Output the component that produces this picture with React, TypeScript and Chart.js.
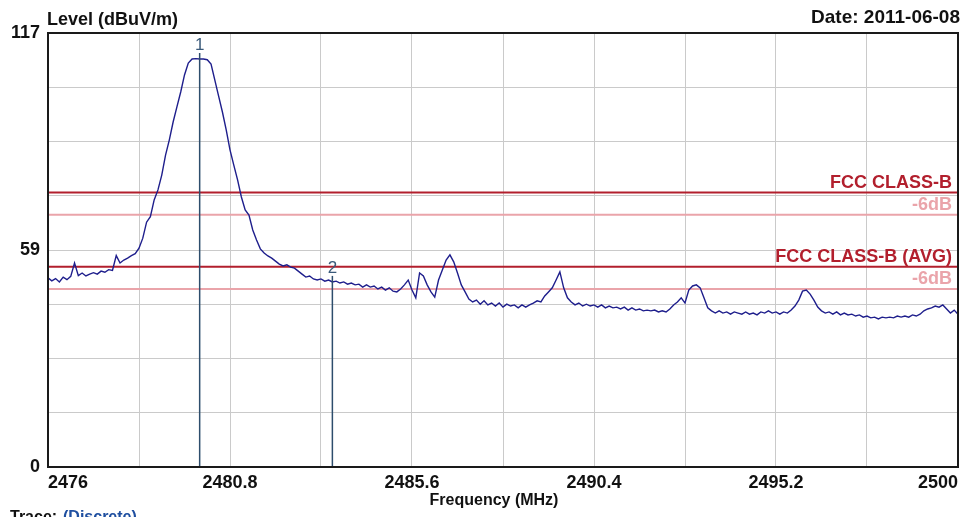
import React, { useEffect, useRef } from 'react';
import { Chart, registerables } from 'chart.js';

Chart.register(...registerables);

// Sweep definition (MHz)
const F_START = 2476;
const F_STOP = 2500;
const F_STEP = 0.1;

// Measured level trace (dBuV/m), one value per sweep step
const LEVELS = [
  51.0, 50.2, 50.8, 49.9, 51.2, 50.5, 51.4, 55.0, 51.6, 52.3,
  51.5, 52.0, 52.4, 52.0, 52.8, 52.5, 53.2, 53.0, 57.0, 55.0,
  55.8, 56.3, 57.0, 57.5, 59.0, 61.7, 66.0, 67.5, 72.0, 74.7,
  78.7, 84.1, 88.2, 93.0, 97.1, 101.1, 105.7, 108.9, 110.0, 110.1,
  110.0, 110.0, 109.8, 108.6, 104.3, 100.0, 95.7, 90.9, 85.5, 81.4,
  77.4, 72.8, 69.3, 67.9, 63.9, 61.2, 58.8, 57.7, 56.9, 56.3,
  55.5, 54.7, 54.2, 54.5, 53.9, 53.6, 52.8, 52.0, 51.2, 51.5,
  50.7, 50.4, 50.7, 50.1, 50.4, 49.9, 50.1, 49.6, 49.9, 49.3,
  49.6, 49.1, 49.3, 48.5, 49.1, 48.5, 48.8, 48.0, 48.5, 47.7,
  48.3, 47.4, 47.2, 48.0, 49.1, 50.4, 47.7, 45.6, 52.3, 51.5,
  49.1, 47.2, 45.8, 50.4, 53.1, 55.8, 57.2, 55.3, 52.3, 49.1,
  47.2, 45.3, 44.5, 45.0, 43.9, 44.8, 43.7, 44.2, 43.4, 44.2,
  43.1, 43.9, 43.4, 43.7, 42.9, 43.7, 43.1, 43.7, 44.2, 44.8,
  44.5, 46.1, 47.2, 48.3, 50.4, 52.6, 48.3, 45.6, 44.5, 43.7,
  44.2, 43.4, 43.9, 43.4, 43.7, 43.1, 43.7, 42.9, 43.4, 42.9,
  43.1, 42.6, 43.1, 42.3, 42.9, 42.3, 42.6, 42.1, 42.3, 42.1,
  42.3, 41.8, 42.1, 41.8, 42.6, 43.7, 44.5, 45.6, 44.2, 47.7,
  48.8, 49.1, 48.3, 45.6, 42.9, 42.1, 41.5, 42.1, 41.5, 41.8,
  41.2, 41.8, 41.5, 41.2, 41.8, 41.2, 41.5, 41.0, 41.8, 41.5,
  42.1, 41.5, 41.8, 41.2, 41.8, 41.5, 42.3, 43.4, 45.0, 47.4,
  47.7, 46.6, 45.0, 43.1, 42.1, 41.5, 41.8, 41.2, 41.8, 41.0,
  41.5, 41.0, 41.2, 40.7, 41.0, 40.4, 40.7, 40.2, 40.4, 39.9,
  40.4, 40.2, 40.4, 40.2, 40.7, 40.4, 40.7, 40.4, 41.0, 40.7,
  41.2, 42.1, 42.6, 42.9, 43.4, 43.1, 43.7, 42.6, 41.5, 42.3, 41.2,
];

// Axis grid / tick labels
const X_GRID = [2476, 2478.4, 2480.8, 2483.2, 2485.6, 2488, 2490.4, 2492.8, 2495.2, 2497.6, 2500];
const X_LABELS = ['2476', '', '2480.8', '', '2485.6', '', '2490.4', '', '2495.2', '', '2500'];
const Y_MIN = 0;
const Y_MAX = 117;
const Y_GRID = [0, 14.625, 29.25, 43.875, 58.5, 73.125, 87.75, 102.375, 117];
const Y_LABELS = ['0', '', '', '', '59', '', '', '', '117'];

// Limit lines
const LIMIT_NAMES = ['FCC CLASS-B', '-6dB', 'FCC CLASS-B (AVG)', '-6dB'];
const LIMIT_LEVELS = [74, 68, 54, 48];
const LIMIT_IS_MARGIN = [false, true, false, true];

// Markers
const MARKER_NAMES = ['1', '2'];
const MARKER_FREQS = [2480.0, 2483.5];

// Texts
const Y_TITLE = 'Level (dBuV/m)';
const X_TITLE = 'Frequency (MHz)';
const DATE_TEXT = 'Date: 2011-06-08';
const TRACE_LABEL = 'Trace:';
const TRACE_MODE = '(Discrete)';

const FONT = '"Liberation Sans", Arial, Helvetica, sans-serif';
const LIMIT_COLOR = '#b21f2d';
const MARGIN_COLOR = '#eaa4aa';

const overlay = {
  id: 'overlay',
  afterDatasetsDraw(chart: any) {
    const { ctx, chartArea: a, scales } = chart;
    const x = scales.x;
    const y = scales.y;
    ctx.save();
    // markers
    MARKER_FREQS.forEach((f, k) => {
      const px = x.getPixelForValue(f);
      const idx = Math.round((f - F_START) / F_STEP);
      const py = y.getPixelForValue(LEVELS[idx]);
      const top = py - 6;
      ctx.strokeStyle = '#2d4d6c';
      ctx.lineWidth = 1.5;
      ctx.beginPath();
      ctx.moveTo(px, top);
      ctx.lineTo(px, a.bottom);
      ctx.stroke();
      ctx.fillStyle = '#3a5a7a';
      ctx.font = `17px ${FONT}`;
      ctx.textAlign = 'center';
      ctx.textBaseline = 'bottom';
      ctx.fillText(MARKER_NAMES[k], px, top + 1);
    });
    // limit labels
    LIMIT_LEVELS.forEach((lv, k) => {
      const py = y.getPixelForValue(lv);
      ctx.fillStyle = LIMIT_IS_MARGIN[k] ? MARGIN_COLOR : LIMIT_COLOR;
      ctx.font = `bold 18px ${FONT}`;
      ctx.textAlign = 'right';
      ctx.textBaseline = 'alphabetic';
      ctx.fillText(LIMIT_NAMES[k], a.right - 6, py - 5);
    });
    // frame
    ctx.strokeStyle = '#1a1a1a';
    ctx.lineWidth = 2;
    ctx.strokeRect(a.left, a.top, a.right - a.left, a.bottom - a.top);
    ctx.restore();
  },
  afterDraw(chart: any) {
    const { ctx, chartArea: a } = chart;
    ctx.save();
    ctx.fillStyle = '#111';
    ctx.textBaseline = 'alphabetic';
    ctx.font = `bold 18px ${FONT}`;
    ctx.textAlign = 'left';
    ctx.fillText(Y_TITLE, a.left - 1, 25);
    ctx.font = `bold 19px ${FONT}`;
    ctx.textAlign = 'right';
    ctx.fillText(DATE_TEXT, a.right + 2, 23);
    ctx.font = `bold 16px ${FONT}`;
    ctx.textAlign = 'center';
    ctx.fillText(X_TITLE, (a.left + a.right) / 2 - 9, 505);
    ctx.font = `bold 16px ${FONT}`;
    ctx.textAlign = 'left';
    ctx.fillText(TRACE_LABEL, 10, 522);
    ctx.fillStyle = '#1f4fa0';
    ctx.fillText(TRACE_MODE, 63, 522);
    ctx.restore();
  },
};

export default function App() {
  const ref = useRef<HTMLCanvasElement | null>(null);

  useEffect(() => {
    if (!ref.current) return;
    const trace = LEVELS.map((v, i) => ({ x: F_START + i * F_STEP, y: v }));
    const limitSets = LIMIT_LEVELS.map((lv, k) => ({
      label: LIMIT_NAMES[k],
      data: [
        { x: F_START, y: lv },
        { x: F_STOP, y: lv },
      ],
      borderColor: LIMIT_IS_MARGIN[k] ? MARGIN_COLOR : LIMIT_COLOR,
      borderWidth: 2,
      pointRadius: 0,
      tension: 0,
    }));
    const chart = new Chart(ref.current, {
      type: 'line',
      data: {
        datasets: [
          {
            label: 'Trace',
            data: trace,
            borderColor: '#1e1e8c',
            borderWidth: 1.4,
            pointRadius: 0,
            tension: 0,
          },
          ...limitSets,
        ],
      },
      options: {
        animation: false,
        responsive: false,
        maintainAspectRatio: false,
        layout: { padding: { top: 33, right: 16, left: 0, bottom: 0 } },
        plugins: {
          legend: { display: false },
          tooltip: { enabled: false },
          title: { display: false },
        },
        scales: {
          x: {
            type: 'linear',
            min: F_START,
            max: F_STOP,
            afterBuildTicks: (s: any) => {
              s.ticks = X_GRID.map((v) => ({ value: v }));
            },
            afterFit: (s: any) => {
              s.height = 50;
            },
            grid: { color: '#cacaca', lineWidth: 1, drawTicks: false },
            border: { display: false },
            ticks: {
              autoSkip: false,
              maxRotation: 0,
              minRotation: 0,
              align: 'inner',
              padding: 5,
              color: '#111',
              font: { family: FONT, size: 18, weight: 'bold' },
              callback: (_v: any, i: number) => X_LABELS[i],
            },
          },
          y: {
            type: 'linear',
            min: Y_MIN,
            max: Y_MAX,
            afterBuildTicks: (s: any) => {
              s.ticks = Y_GRID.map((v) => ({ value: v }));
            },
            afterFit: (s: any) => {
              s.width = 48;
            },
            grid: { color: '#cacaca', lineWidth: 1, drawTicks: false },
            border: { display: false },
            ticks: {
              autoSkip: false,
              padding: 8,
              color: '#111',
              font: { family: FONT, size: 18, weight: 'bold' },
              callback: (_v: any, i: number) => Y_LABELS[i],
            },
          },
        },
      },
      plugins: [overlay],
    } as any);
    return () => chart.destroy();
  }, []);

  return (
    <div style={{ position: 'absolute', left: 0, top: 0, width: 974, height: 517, background: '#fff' }}>
      <canvas ref={ref} width={974} height={517} style={{ width: 974, height: 517, display: 'block' }} />
    </div>
  );
}
